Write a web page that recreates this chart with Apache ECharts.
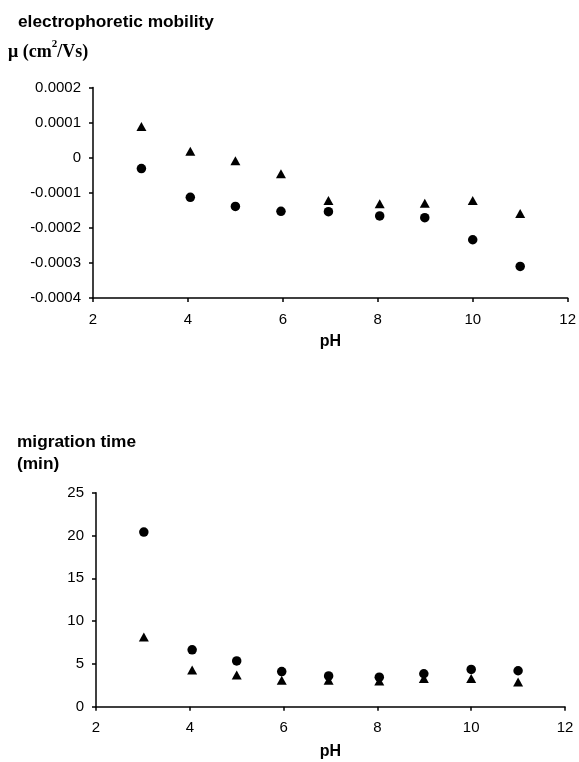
<!DOCTYPE html>
<html>
<head>
<meta charset="utf-8">
<script src="https://cdn.jsdelivr.net/npm/echarts@6/dist/echarts.min.js"></script>
<style>html,body{margin:0;padding:0;background:#fff;}#c{width:579px;height:762px;}</style>
</head>
<body>
<div id="c"></div>
<script>
// pH values (x positions)
const pH = [3.02, 4.05, 5.0, 5.96, 6.96, 8.04, 8.99, 10.0, 11.0];
// Electrophoretic mobility (cm2/Vs)
const mobilityTriangle = [0.000089, 0.000018, -0.000009, -0.000046, -0.000122, -0.000131, -0.00013, -0.000122, -0.000159];
const mobilityCircle = [-0.000031, -0.000113, -0.000139, -0.000153, -0.000154, -0.000166, -0.000171, -0.000234, -0.00031];
// Migration time (min)
const timeCircle = [20.4, 6.65, 5.35, 4.1, 3.6, 3.45, 3.85, 4.35, 4.2];
const timeTriangle = [8.15, 4.3, 3.7, 3.1, 3.1, 3.0, 3.3, 3.3, 2.9];
// Axis ticks
const xTicks = {min: 2, max: 12, interval: 2};
const mobTicks = {min: -0.0004, max: 0.0002, interval: 0.0001};
const timeTicks = {min: 0, max: 25, interval: 5};

const zip = (xs, ys) => xs.map((x, i) => [x, ys[i]]);
const chart = echarts.init(document.getElementById('c'));
const sans = 'Liberation Sans, Arial, sans-serif';
const serif = 'Liberation Serif, Times New Roman, serif';
const axisLine = {show: true, onZero: false, lineStyle: {color: '#000', width: 1.5}};
const axisTick = {show: true, inside: false, length: 4, lineStyle: {color: '#000', width: 1.5}};
const lbl = {color: '#000', fontFamily: sans, fontSize: 15};
const mark = {color: '#000', opacity: 1};

function xAxis(gi, gap) {
  return {
    type: 'value', gridIndex: gi, min: xTicks.min, max: xTicks.max, interval: xTicks.interval,
    axisLine, axisTick, splitLine: {show: false},
    axisLabel: Object.assign({margin: 14}, lbl),
    name: 'pH', nameLocation: 'middle', nameGap: gap,
    nameTextStyle: {color: '#000', fontFamily: sans, fontSize: 16, fontWeight: 'bold'}
  };
}

const option = {
  animation: false,
  backgroundColor: '#fff',
  title: [
    {text: 'electrophoretic mobility', left: 13, top: 9,
     textStyle: {fontFamily: sans, fontSize: 17.3, fontWeight: 'bold', color: '#000'}},
    {text: '{a|μ (cm}{s|2}{a|/Vs)}', left: 3, top: 34,
     textStyle: {rich: {
       a: {fontFamily: serif, fontSize: 18, fontWeight: 'bold', color: '#000', verticalAlign: 'bottom', lineHeight: 22},
       s: {fontFamily: serif, fontSize: 11, fontWeight: 'bold', color: '#000', verticalAlign: 'top', lineHeight: 22, padding: [0, 0, 8, 0]}
     }}},
    {text: 'migration time', left: 12, top: 429,
     textStyle: {fontFamily: sans, fontSize: 17.3, fontWeight: 'bold', color: '#000'}},
    {text: '(min)', left: 12, top: 451,
     textStyle: {fontFamily: sans, fontSize: 17.3, fontWeight: 'bold', color: '#000'}}
  ],
  grid: [
    {left: 93, right: 9, top: 87.5, bottom: 464},
    {left: 96, right: 14, top: 492.7, bottom: 55.3}
  ],
  xAxis: [xAxis(0, 36), xAxis(1, 37)],
  yAxis: [
    {type: 'value', gridIndex: 0, min: mobTicks.min, max: mobTicks.max, interval: mobTicks.interval,
     axisLine, axisTick, splitLine: {show: false},
     axisLabel: Object.assign({margin: 12, formatter: v => {
       const r = Math.round(v * 1e4) / 1e4; return r === 0 ? '0' : r.toFixed(4);
     }}, lbl)},
    {type: 'value', gridIndex: 1, min: timeTicks.min, max: timeTicks.max, interval: timeTicks.interval,
     axisLine, axisTick, splitLine: {show: false},
     axisLabel: Object.assign({margin: 12}, lbl)}
  ],
  series: [
    {type: 'scatter', xAxisIndex: 0, yAxisIndex: 0, symbol: 'triangle', symbolSize: [10, 9],
     itemStyle: mark, data: zip(pH, mobilityTriangle)},
    {type: 'scatter', xAxisIndex: 0, yAxisIndex: 0, symbol: 'circle', symbolSize: 9.5,
     itemStyle: mark, data: zip(pH, mobilityCircle)},
    {type: 'scatter', xAxisIndex: 1, yAxisIndex: 1, symbol: 'circle', symbolSize: 9.5,
     itemStyle: mark, data: zip(pH, timeCircle)},
    {type: 'scatter', xAxisIndex: 1, yAxisIndex: 1, symbol: 'triangle', symbolSize: [10, 9],
     itemStyle: mark, data: zip(pH, timeTriangle)}
  ]
};
chart.setOption(option);
</script>
</body>
</html>
